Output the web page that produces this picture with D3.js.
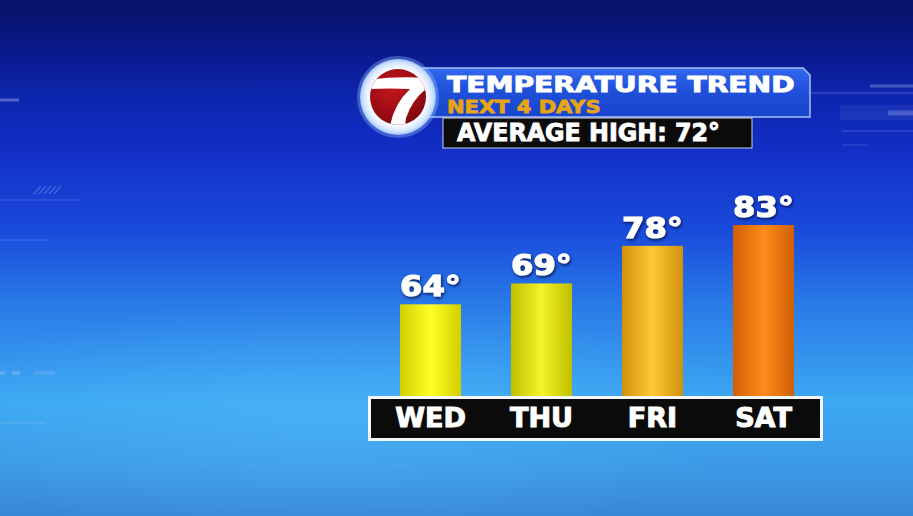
<!DOCTYPE html>
<html>
<head>
<meta charset="utf-8">
<script src="https://cdn.jsdelivr.net/npm/d3@7/dist/d3.min.js"></script>
<style>
  html, body { margin: 0; padding: 0; background: #1a3fd0; overflow: hidden; }
  svg { display: block; }
  text { font-family: "DejaVu Sans", "Liberation Sans", sans-serif; font-weight: bold; }
</style>
</head>
<body>
<svg id="chart" width="913" height="516"></svg>
<script>
// ---- data ----
const days = ["WED", "THU", "FRI", "SAT"];
const highs = [64, 69, 78, 83];
const titleText = "TEMPERATURE TREND";
const subtitleText = "NEXT 4 DAYS";
const averageHighLabel = "AVERAGE HIGH:";
const averageHigh = 72;

// ---- styles ----
const barEdge = ["#d2ce00", "#bfbf00", "#d0900c", "#d05f06"];
const barMid  = ["#ffff28", "#f4f428", "#ffc934", "#ff8a1c"];

const W = 913, H = 516;
const svg = d3.select("#chart");
const defs = svg.append("defs");

// background gradient
const bg = defs.append("linearGradient").attr("id", "bg").attr("x1", 0).attr("y1", 0).attr("x2", 0).attr("y2", 1);
[[0, "#0a1680"], [0.12, "#0b1e9e"], [0.3, "#1230c8"], [0.45, "#1a4cdc"], [0.6, "#2a7de8"], [0.78, "#3ca8f2"], [0.9, "#3c9ae6"], [1, "#3a88d8"]]
  .forEach(([o, c]) => bg.append("stop").attr("offset", o).attr("stop-color", c));
const glow = defs.append("radialGradient").attr("id", "glow").attr("cx", 0.5).attr("cy", 0.5).attr("r", 0.5);
glow.append("stop").attr("offset", 0).attr("stop-color", "#5cc4ff").attr("stop-opacity", 0.35);
glow.append("stop").attr("offset", 1).attr("stop-color", "#5cc4ff").attr("stop-opacity", 0);
const topShade = defs.append("linearGradient").attr("id", "topShade").attr("x1", 0).attr("y1", 0).attr("x2", 0).attr("y2", 1);
topShade.append("stop").attr("offset", 0).attr("stop-color", "#000830").attr("stop-opacity", 0.3);
topShade.append("stop").attr("offset", 1).attr("stop-color", "#000830").attr("stop-opacity", 0);

// banner gradient
const bn = defs.append("linearGradient").attr("id", "banner").attr("x1", 0).attr("y1", 0).attr("x2", 0).attr("y2", 1);
[[0, "#3468ee"], [0.45, "#1f50da"], [1, "#1845cc"]].forEach(([o, c]) => bn.append("stop").attr("offset", o).attr("stop-color", c));

// logo gradients
const lw = defs.append("radialGradient").attr("id", "logoWhite").attr("cx", 0.5).attr("cy", 0.5).attr("r", 0.5);
[[0, "#ffffff"], [0.78, "#f4f8ff"], [0.92, "#cfe2ff"], [1, "#9cc4ff"]].forEach(([o, c]) => lw.append("stop").attr("offset", o).attr("stop-color", c));
const lr = defs.append("radialGradient").attr("id", "logoRed").attr("cx", 0.4).attr("cy", 0.35).attr("r", 0.7);
[[0, "#c0161c"], [0.7, "#9a0c12"], [1, "#7a070c"]].forEach(([o, c]) => lr.append("stop").attr("offset", o).attr("stop-color", c));
defs.append("clipPath").attr("id", "logoClip").append("circle").attr("cx", 398).attr("cy", 97).attr("r", 28);

// text shadow
const f = defs.append("filter").attr("id", "shadow").attr("x", "-20%").attr("y", "-30%").attr("width", "140%").attr("height", "160%");
f.append("feDropShadow").attr("dx", 1).attr("dy", 1.5).attr("stdDeviation", 1.6).attr("flood-color", "#001040").attr("flood-opacity", 0.9);

// ---- background ----
svg.append("rect").attr("width", W).attr("height", H).attr("fill", "url(#bg)");
svg.append("ellipse").attr("cx", 330).attr("cy", 420).attr("rx", 420).attr("ry", 120).attr("fill", "url(#glow)");
svg.append("rect").attr("width", W).attr("height", 90).attr("fill", "url(#topShade)");

const deco = svg.append("g").attr("stroke", "#c8d8ff").attr("fill", "none");
[[0, 100, 19, 100, 3, 0.35], [0, 200, 80, 200, 1, 0.22], [0, 240, 48, 240, 1, 0.22], [810, 93, 913, 93, 1, 0.3],
 [842, 131, 913, 131, 1, 0.25], [842, 145, 868, 145, 1, 0.2], [870, 86, 913, 86, 3, 0.3], [888, 113, 913, 113, 5, 0.25],
 [0, 423, 45, 423, 1, 0.25], [0, 373, 5, 373, 4, 0.25], [12, 373, 20, 373, 4, 0.25], [34, 373, 55, 373, 4, 0.15]]
  .forEach(([x1, y1, x2, y2, w, o]) => deco.append("line").attr("x1", x1).attr("y1", y1).attr("x2", x2).attr("y2", y2).attr("stroke-width", w).attr("opacity", o));
svg.append("rect").attr("x", 840).attr("y", 105).attr("width", 73).attr("height", 15).attr("fill", "#c8d8ff").attr("opacity", 0.07);
for (let i = 0; i < 5; i++) {
  deco.append("line").attr("x1", 34 + i * 5).attr("y1", 194).attr("x2", 41 + i * 5).attr("y2", 186).attr("stroke-width", 1.5).attr("opacity", 0.25);
}

// ---- scales ----
const x = d3.scaleBand().domain(days).range([375, 819]).paddingInner(0.45).paddingOuter(0.225);
const y = d3.scaleLinear().domain([41.8, 83]).range([397, 225]);

// bar gradients
days.forEach((d, i) => {
  const g = defs.append("linearGradient").attr("id", "bar" + i).attr("x1", 0).attr("y1", 0).attr("x2", 1).attr("y2", 0);
  g.append("stop").attr("offset", 0).attr("stop-color", barEdge[i]);
  g.append("stop").attr("offset", 0.5).attr("stop-color", barMid[i]);
  g.append("stop").attr("offset", 1).attr("stop-color", barEdge[i]);
});

const stretch = (sel, k) => sel.each(function () {
  const len = this.getComputedTextLength();
  d3.select(this).attr("textLength", len * k).attr("lengthAdjust", "spacingAndGlyphs");
});

// ---- bars ----
svg.append("g").selectAll("rect").data(highs).join("rect")
  .attr("x", (d, i) => x(days[i]))
  .attr("y", d => y(d))
  .attr("width", x.bandwidth())
  .attr("height", d => y.range()[0] - y(d))
  .attr("fill", (d, i) => `url(#bar${i})`);

// value labels
svg.append("g").selectAll("text").data(highs).join("text")
  .attr("x", (d, i) => x(days[i]) + x.bandwidth() / 2)
  .attr("y", d => y(d) - 8)
  .attr("text-anchor", "middle")
  .attr("font-size", 28)
  .attr("fill", "#ffffff")
  .attr("stroke", "#ffffff").attr("stroke-width", 1.1)
  .attr("filter", "url(#shadow)")
  .text(d => d + "°")
  .call(stretch, 1.15);

// ---- day axis box ----
svg.append("rect").attr("x", 368).attr("y", 396).attr("width", 455).attr("height", 45).attr("fill", "#f4f6fa");
svg.append("rect").attr("x", 371).attr("y", 399).attr("width", 449).attr("height", 39).attr("fill", "#0b0b0b");

const axis = svg.append("g").attr("transform", "translate(0,399)")
  .call(d3.axisBottom(x).tickSize(0).tickPadding(0));
axis.select(".domain").remove();
axis.selectAll("text")
  .attr("y", 28).attr("dy", 0)
  .attr("fill", "#ffffff")
  .attr("stroke", "#ffffff").attr("stroke-width", 1)
  .attr("font-size", 26)
  .attr("font-family", "'DejaVu Sans', sans-serif")
  .attr("font-weight", "bold")
  .call(stretch, 1.04);

// ---- title banner ----
svg.append("path").attr("d", "M420,68 L803,68 L810,75 L810,117 L420,117 Z")
  .attr("fill", "url(#banner)").attr("stroke", "#a9c0f4").attr("stroke-width", 1.5);
svg.append("text").attr("x", 447).attr("y", 91.5).attr("font-size", 22).attr("fill", "#ffffff")
  .attr("stroke", "#ffffff").attr("stroke-width", 0.9)
  .text(titleText).call(stretch, 1.28);
svg.append("text").attr("x", 447).attr("y", 113).attr("font-size", 17.5).attr("fill", "#e8a412")
  .attr("stroke", "#e8a412").attr("stroke-width", 0.8)
  .text(subtitleText).call(stretch, 1.2);

svg.append("rect").attr("x", 443).attr("y", 118).attr("width", 309).attr("height", 30)
  .attr("fill", "#0b0b0b").attr("stroke", "#c8d0e4").attr("stroke-width", 1);
svg.append("text").attr("x", 457).attr("y", 141).attr("font-size", 24).attr("fill", "#ffffff")
  .attr("stroke", "#ffffff").attr("stroke-width", 0.9)
  .text(`${averageHighLabel} ${averageHigh}°`).call(stretch, 0.99);

// ---- logo ----
svg.append("circle").attr("cx", 398).attr("cy", 97).attr("r", 41).attr("fill", "#9cc8ff").attr("opacity", 0.35);
svg.append("circle").attr("cx", 398).attr("cy", 97).attr("r", 38).attr("fill", "url(#logoWhite)");
svg.append("circle").attr("cx", 398).attr("cy", 97).attr("r", 28).attr("fill", "url(#logoRed)");
svg.append("path")
  .attr("clip-path", "url(#logoClip)")
  .attr("d", "M366,80 Q396,76 426,78 L426,89 Q412,100 406,118 L405,126 L390,126 Q394,104 410,89 Q390,88 368,89 Z")
  .attr("fill", "#ffffff");
</script>
</body>
</html>
